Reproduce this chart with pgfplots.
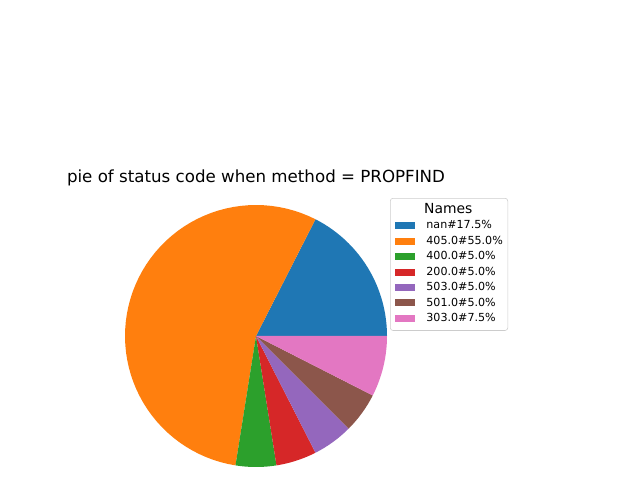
\documentclass[border=0pt]{standalone}
\usepackage{fontspec}
\setmainfont{DejaVu Sans}
\usepackage{pgfplots}
\pgfplotsset{compat=1.18}

\definecolor{c0}{HTML}{1F77B4}
\definecolor{c1}{HTML}{FF7F0E}
\definecolor{c2}{HTML}{2CA02C}
\definecolor{c3}{HTML}{D62728}
\definecolor{c4}{HTML}{9467BD}
\definecolor{c5}{HTML}{8C564B}
\definecolor{c6}{HTML}{E377C2}

% one wedge: colour, share in percent; \cum holds the running start
\def\cum{0}
\newcommand\slice[2]{%
  \pgfmathsetmacro\sA{\cum*3.6}%
  \pgfmathsetmacro\nxt{\cum+#2}%
  \pgfmathsetmacro\sB{\nxt*3.6}%
  \edef\tmp{\noexpand\addplot[fill=#1, draw=none, domain=\sA:\sB, samples=60,
      variable=\noexpand\t] ({cos(\noexpand\t)},{sin(\noexpand\t)})
      -- (axis cs:0,0) -- cycle;}%
  \tmp
  \xdef\cum{\nxt}%
}

\begin{document}
\begin{tikzpicture}[x=0.72pt, y=0.72pt]
\useasboundingbox (0,0) rectangle (640,480);
\coordinate (pc) at (256,144);
\node[font=\fontsize{12}{14}\selectfont] at (256,302) {pie of status code when method = PROPFIND};
\begin{axis}[
    at={(pc)}, anchor=origin,
    width=188.64pt, height=188.64pt, scale only axis,
    hide axis,
    xmin=-1, xmax=1, ymin=-1, ymax=1,
    clip=false,
    legend cell align=left,
    legend image code/.code={\fill[#1, sharp corners] (0pt,-2.5pt) rectangle (14.4pt,2.5pt);},
    legend style={at={(1.0115,1.0267)}, anchor=north west,
        draw=black!20, rounded corners=2pt, fill=white,
        inner xsep=3.6pt, inner ysep=5pt,
        font=\fontsize{8}{9.6}\selectfont,
        row sep=3.6pt,
        nodes={inner sep=0pt, text height=6pt, text depth=1.5pt},
        /tikz/every odd column/.append style={column sep=8pt}},
]
\addlegendimage{empty legend}
\addlegendentry{\hspace*{15.8pt}\makebox[0pt][c]{\fontsize{10}{12}\selectfont Names}}
\slice{c0}{17.5} \addlegendentry{nan\#17.5\%}
\slice{c1}{55.0} \addlegendentry{405.0\#55.0\%}
\slice{c2}{5.0}  \addlegendentry{400.0\#5.0\%}
\slice{c3}{5.0}  \addlegendentry{200.0\#5.0\%}
\slice{c4}{5.0}  \addlegendentry{503.0\#5.0\%}
\slice{c5}{5.0}  \addlegendentry{501.0\#5.0\%}
\slice{c6}{7.5}  \addlegendentry{303.0\#7.5\%}
\end{axis}
\end{tikzpicture}
\end{document}
